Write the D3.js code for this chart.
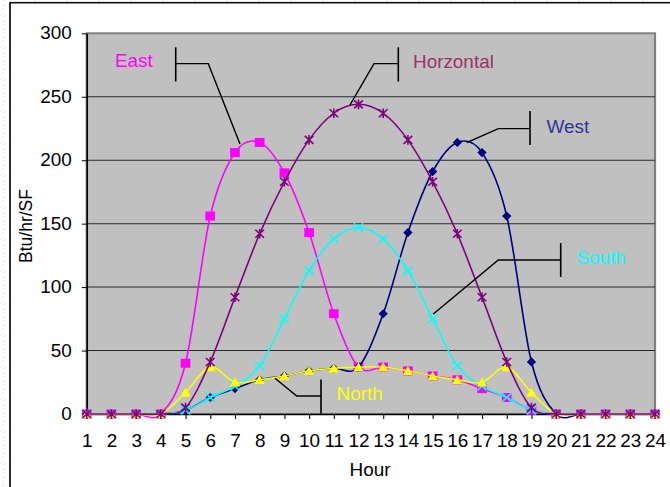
<!DOCTYPE html>
<html>
<head>
<meta charset="utf-8">
<script src="https://cdn.jsdelivr.net/npm/d3@7"></script>
<style>
  html, body { margin: 0; padding: 0; background: #fff; overflow: hidden; }
  svg { display: block; }
</style>
</head>
<body>
<svg id="chart"></svg>
<script>
// Hourly solar heat gain through glazing, by orientation (Btu/hr/SF)
const hours = [1, 2, 3, 4, 5, 6, 7, 8, 9, 10, 11, 12, 13, 14, 15, 16, 17, 18, 19, 20, 21, 22, 23, 24];
const yTicks = [0, 50, 100, 150, 200, 250, 300];

const east       = [0, 0, 0, 0, 40, 156, 206, 214, 190, 143, 79, 37, 37, 34, 30, 27, 20, 13, 3, 0, 0, 0, 0, 0];
const west       = [0, 0, 0, 0, 3, 13, 20, 27, 30, 34, 36, 37, 79, 143, 191, 214, 206, 156, 41, 0, 0, 0, 0, 0];
const south      = [0, 0, 0, 0, 3, 13, 22, 38, 75, 113, 138, 147, 138, 113, 75, 38, 22, 13, 3, 0, 0, 0, 0, 0];
const north      = [0, 0, 0, 0, 17, 37, 25, 27, 30, 34, 36, 37, 37, 34, 30, 27, 25, 37, 17, 0, 0, 0, 0, 0];
const horizontal = [0, 0, 0, 0, 5, 41, 92, 142, 183, 216, 237, 244, 237, 216, 183, 142, 92, 41, 5, 0, 0, 0, 0, 0];

const W = 670, H = 487;
const SX = 1.08;                 // horizontal stretch of the whole drawing
const px = v => v / SX;          // page x (pixels) -> drawing units
const FONT = "'Liberation Sans', Arial, Helvetica, sans-serif";
const FS = 17.5;

const plot = { left: 86.7, right: 655, top: 33.3, bottom: 414 };

const svg = d3.select("#chart")
  .attr("width", W).attr("height", H)
  .attr("viewBox", `0 0 ${W / SX} ${H}`)
  .attr("preserveAspectRatio", "none");

// slide background with faint dashed guide grid
const defs = svg.append("defs");
const pat = defs.append("pattern").attr("id", "bgGrid")
  .attr("patternUnits", "userSpaceOnUse")
  .attr("width", px(32)).attr("height", 32);
pat.append("rect").attr("width", px(32)).attr("height", 32).attr("fill", "#fff");
pat.append("line").attr("x1", px(3)).attr("x2", px(3)).attr("y1", 0).attr("y2", 32)
  .attr("stroke", "#dfe6f4").attr("stroke-width", 1).attr("stroke-dasharray", "2,2");
pat.append("line").attr("x1", 0).attr("x2", px(32)).attr("y1", 15).attr("y2", 15)
  .attr("stroke", "#dfe6f4").attr("stroke-width", 1).attr("stroke-dasharray", "2,2");
svg.append("rect").attr("width", W / SX).attr("height", H).attr("fill", "url(#bgGrid)");

// chart frame
svg.append("rect")
  .attr("x", px(10)).attr("y", 2.7)
  .attr("width", px(700)).attr("height", 600)
  .attr("fill", "#fff").attr("stroke", "#111").attr("stroke-width", 1.6);

const x = d3.scalePoint().domain(hours).range([px(plot.left), px(plot.right)]);
const y = d3.scaleLinear().domain([0, 300]).range([plot.bottom, plot.top]);

// plot area
svg.append("rect")
  .attr("x", px(plot.left)).attr("y", plot.top)
  .attr("width", px(plot.right - plot.left)).attr("height", plot.bottom - plot.top)
  .attr("fill", "#c0c0c0").attr("stroke", "#808080").attr("stroke-width", 2);

// gridlines
svg.append("g").selectAll("line")
  .data(yTicks.filter(v => v > 0 && v < 300))
  .join("line")
  .attr("x1", px(plot.left)).attr("x2", px(plot.right))
  .attr("y1", d => y(d)).attr("y2", d => y(d))
  .attr("stroke", "#2a2a2a").attr("stroke-width", 1);

// axes
const yAxis = svg.append("g")
  .attr("transform", `translate(${px(plot.left)},0)`)
  .call(d3.axisLeft(y).tickValues(yTicks).tickSize(px(5)).tickPadding(px(10)).tickSizeOuter(0));
const xAxis = svg.append("g")
  .attr("transform", `translate(0,${plot.bottom})`)
  .call(d3.axisBottom(x).tickSize(5).tickPadding(16).tickSizeOuter(0));

[yAxis, xAxis].forEach(g => {
  g.select(".domain").attr("stroke", "#000").attr("stroke-width", 1.5);
  g.selectAll(".tick line").attr("stroke", "#000").attr("stroke-width", 1);
  g.selectAll(".tick text")
    .attr("fill", "#000")
    .style("font-family", FONT).style("font-size", FS + "px");
});

// axis titles
svg.append("text")
  .attr("x", px(370)).attr("y", 476.5)
  .attr("text-anchor", "middle")
  .style("font-family", FONT).style("font-size", FS + "px")
  .text("Hour");
svg.append("text")
  .attr("transform", `translate(${px(31.5)},226) rotate(-90)`)
  .attr("text-anchor", "middle")
  .style("font-family", FONT).style("font-size", FS + "px")
  .text("Btu/hr/SF");

// marker shapes
const markers = {
  square: g => g.append("rect").attr("x", -4.5).attr("y", -4.5).attr("width", 9).attr("height", 9),
  diamond: g => g.append("path").attr("d", "M0,-4.6L4.3,0L0,4.6L-4.3,0Z"),
  triangle: g => g.append("path").attr("d", "M0,-4.8L4.8,4.2L-4.8,4.2Z"),
  star: g => g.append("path").attr("d", "M-4,-4L4,4M-4,4L4,-4M0,-4.8L0,4.8").attr("fill", "none"),
  cross: g => g.append("path").attr("d", "M-4.3,-4.3L4.3,4.3M-4.3,4.3L4.3,-4.3").attr("fill", "none")
};

const series = [
  { name: "East",       values: east,       color: "#ff00ff", marker: "square" },
  { name: "West",       values: west,       color: "#000080", marker: "diamond" },
  { name: "South",      values: south,      color: "#00ffff", marker: "cross" },
  { name: "North",      values: north,      color: "#ffff00", marker: "triangle" },
  { name: "Horizontal", values: horizontal, color: "#800080", marker: "star" }
];

const line = d3.line()
  .x((d, i) => x(hours[i]))
  .y(d => y(d))
  .curve(d3.curveCardinal.tension(0));

series.forEach(s => {
  const g = svg.append("g").attr("class", "series");
  g.append("path")
    .attr("d", line(s.values))
    .attr("fill", "none").attr("stroke", s.color).attr("stroke-width", 1.5);
  g.selectAll("g.mk")
    .data(s.values)
    .join("g")
    .attr("class", "mk")
    .attr("transform", (d, i) => `translate(${x(hours[i])},${y(d)})`)
    .each(function () {
      const shape = markers[s.marker](d3.select(this));
      if (s.marker === "star" || s.marker === "cross") {
        shape.attr("stroke", s.color).attr("stroke-width", 1.5);
      } else {
        shape.attr("fill", s.color);
      }
    });
});

// callout labels: text, bracket bar and leader line to the curve
const callouts = [
  { text: "East",      color: "#ff00ff", tx: 115,   ty: 67.5, bar: 175.7, y0: 47.3,  y1: 81.5, knee: [208.3, 63.7],  tip: [240, 144] },
  { text: "Horzontal", color: "#993366", tx: 413,   ty: 68,   bar: 398.3, y0: 47.3,  y1: 81.5, knee: [374, 63.7],    tip: [350, 105] },
  { text: "West",      color: "#333399", tx: 546.5, ty: 133,  bar: 530,   y0: 111,   y1: 145,  knee: [498.3, 128.7], tip: [466.7, 142.7] },
  { text: "South",     color: "#00ffff", tx: 576.5, ty: 264,  bar: 560.7, y0: 243,   y1: 277,  knee: [498.3, 260],   tip: [433.3, 314] },
  { text: "North",     color: "#ffff00", tx: 336.5, ty: 400,  bar: 321,   y0: 379.5, y1: 413.5, knee: [296.7, 396],  tip: [275, 378.3] }
];

const cg = svg.append("g");
callouts.forEach(c => {
  cg.append("line")
    .attr("x1", px(c.bar)).attr("x2", px(c.bar))
    .attr("y1", c.y0).attr("y2", c.y1)
    .attr("stroke", "#000").attr("stroke-width", 1.5);
  cg.append("path")
    .attr("d", `M${px(c.bar)},${c.knee[1]}L${px(c.knee[0])},${c.knee[1]}L${px(c.tip[0])},${c.tip[1]}`)
    .attr("fill", "none").attr("stroke", "#000").attr("stroke-width", 1.3);
  cg.append("text")
    .attr("x", px(c.tx)).attr("y", c.ty)
    .attr("fill", c.color)
    .style("font-family", FONT).style("font-size", FS + "px")
    .text(c.text);
});
</script>
</body>
</html>
